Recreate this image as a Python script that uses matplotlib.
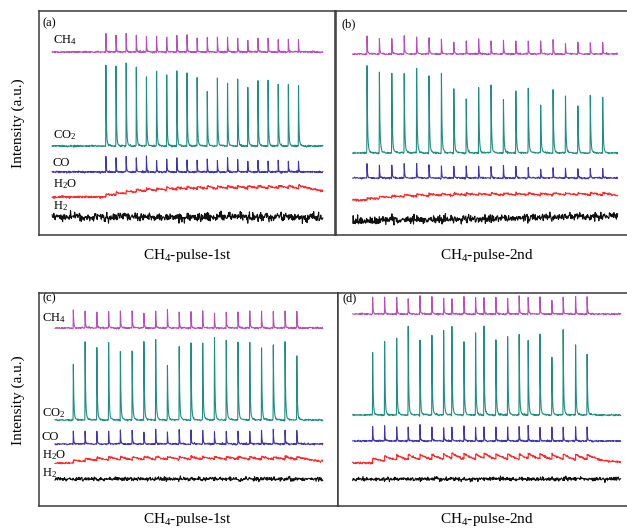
import numpy as np
import matplotlib
matplotlib.use("Agg")
import matplotlib.pyplot as plt

plt.rcParams['font.family'] = ['Liberation Serif', 'DejaVu Serif']
plt.rcParams['mathtext.fontset'] = 'custom'
plt.rcParams['mathtext.rm'] = 'Liberation Serif'
plt.rcParams['mathtext.it'] = 'Liberation Serif:italic'

# ---------------- data (a.u.) ----------------
gases = ["CH$_4$", "CO$_2$", "CO", "H$_2$O", "H$_2$"]

pulses_a = list(range(20))
pulses_b = list(range(20))
pulses_c = list(range(20))
pulses_d = [0, 1.06, 2.13, 3.15, 4.19, 5.25, 6.29, 7.02, 8.09, 9.12,
            9.86, 10.92, 11.96, 12.98, 13.78, 14.82, 15.88, 16.88, 17.98, 19.0]

ch4_a = [19, 17, 18, 17, 15, 17, 15, 17, 18, 14, 15, 15, 15, 14, 12, 14, 14, 13, 13, 12]
co2_a = [81, 80, 84, 79, 69, 76, 71, 76, 73, 69, 55, 68, 64, 67, 59, 66, 66, 63, 62, 61]
co_a = [16, 14, 16, 14, 16, 12, 13, 14, 12, 12, 13, 12, 14, 12, 11, 12, 11, 12, 11, 11]

ch4_b = [18, 16, 16, 18, 17, 16, 15, 12, 13, 15, 13, 14, 13, 13, 13, 14, 10, 12, 12, 11]
co2_b = [87, 81, 80, 79, 85, 77, 80, 64, 54, 66, 68, 54, 62, 65, 48, 64, 58, 47, 58, 56]
co_b = [15, 13, 13, 14, 14, 13, 12, 12, 12, 12, 12, 12, 12, 10, 9, 10, 10, 9, 10, 9]

ch4_c = [18, 17, 16, 16, 17, 17, 15, 17, 18, 16, 17, 17, 15, 16, 16, 17, 17, 17, 17, 16]
co2_c = [56, 79, 73, 77, 69, 69, 79, 81, 55, 73, 78, 78, 83, 80, 78, 78, 73, 76, 79, 64]
co_c = [13, 13, 13, 13, 14, 14, 12, 15, 12, 14, 14, 14, 13, 13, 13, 13, 14, 15, 14, 14]

ch4_d = [17, 17, 17, 15, 18, 17, 16, 15, 17, 17, 16, 17, 16, 18, 17, 17, 14, 17, 18, 17]
co2_d = [63, 74, 77, 90, 75, 80, 85, 89, 74, 82, 89, 75, 79, 81, 75, 81, 58, 86, 70, 61]
co_d = [14, 15, 14, 14, 16, 14, 14, 14, 15, 14, 14, 14, 14, 14, 16, 14, 14, 14, 14, 14]

# H2O response per pulse (jump height, relaxation time)
h2o_step = {"a": 2.6, "b": 2.0, "c": 3.0, "d": 5.0}
h2o_tau = {"a": 3.9, "b": 3.0, "c": 1.65, "d": 1.23}

captions = ["CH$_4$-pulse-1st", "CH$_4$-pulse-2nd", "CH$_4$-pulse-1st", "CH$_4$-pulse-2nd"]
ylabel = "Intensity (a.u.)"

colors = ["#B84FB8", "#1F8F82", "#4136B2", "#FF2B2B", "#111111"]

# ---------------- helpers ----------------
rng = np.random.default_rng(11)  # only for the detector-noise texture


def peak_train(t, times, heights, tau=0.03):
    y = np.zeros_like(t)
    for t0, h in zip(times, heights):
        dt = t - t0
        dp = np.maximum(dt, 0)
        fall = 0.92 * np.exp(-dp / tau) + 0.08 * np.exp(-dp / 0.15)
        rise = np.exp(-(np.minimum(dt, 0) / 0.012) ** 2)
        y += h * np.where(dt < 0, rise, fall)
    return y


def water(t, times, step, tau):
    y = np.zeros_like(t)
    for t0 in times:
        dt = t - t0
        y += step * np.where(dt >= 0, np.exp(-np.maximum(dt, 0) / tau), 0.0)
    return y


def texture(t, amp, per_unit):
    n = max(int((t[-1] - t[0]) * per_unit), 4)
    grid = np.linspace(t[0], t[-1], n)
    return np.interp(t, grid, rng.normal(0, amp, n))


# ---------------- figure ----------------
W, H = 627, 529
fig = plt.figure(figsize=(W / 100, H / 100), dpi=100)


def rect(x0, x1, y0, y1):
    return [x0 / W, 1 - y1 / H, (x1 - x0) / W, (y1 - y0) / H]


panels = [
    dict(key="a", rect=rect(39, 335, 11, 235), ylim=224, xlim=(-6.6, 22.6), tr=(-5.3, 21.4),
         pulses=pulses_a, ch4=ch4_a, co2=co2_a, co=co_a,
         base=[183, 89, 63, 38, (18, 18)], h2amp=2.2, labels=True,
         labpos=[0.87, 0.446, 0.321, 0.228, 0.13], labx=0.047, tag=(0.013, 0.945)),
    dict(key="b", rect=rect(336, 630, 11, 235), ylim=224, xlim=(-2.5, 21.2), tr=(-1.15, 20.2),
         pulses=pulses_b, ch4=ch4_b, co2=co2_b, co=co_b,
         base=[181, 82, 57, 35, (14, 19)], h2amp=1.9, labels=False,
         labpos=None, labx=None, tag=(0.02, 0.94)),
    dict(key="c", rect=rect(39, 338, 293, 506), ylim=213, xlim=(-2.92, 22.5), tr=(-1.56, 21.2),
         pulses=pulses_c, ch4=ch4_c, co2=co2_c, co=co_c,
         base=[178, 86, 62, 43, (27, 27)], h2amp=1.0, labels=True,
         labpos=[0.883, 0.437, 0.324, 0.239, 0.155], labx=0.01, tag=(0.013, 0.975)),
    dict(key="d", rect=rect(338, 630, 293, 506), ylim=213, xlim=(-3.07, 22.8), tr=(-1.77, 21.97),
         pulses=pulses_d, ch4=ch4_d, co2=co2_d, co=co_d,
         base=[192, 91, 65, 43, (27, 27)], h2amp=1.0, labels=False,
         labpos=None, labx=None, tag=(0.015, 0.975)),
]

for p in panels:
    ax = fig.add_axes(p["rect"])
    t = np.linspace(p["tr"][0], p["tr"][1], 12000)
    b = p["base"]
    series = [
        b[0] + peak_train(t, p["pulses"], p["ch4"]) + texture(t, 0.4, 35),
        b[1] + peak_train(t, p["pulses"], p["co2"], tau=0.04) + texture(t, 0.4, 35),
        b[2] + peak_train(t, p["pulses"], p["co"]) + texture(t, 0.4, 35),
        b[3] + water(t, p["pulses"], h2o_step[p["key"]], h2o_tau[p["key"]]) + texture(t, 0.5, 35),
    ]
    for y, c in zip(series, colors[:4]):
        ax.plot(t, y, color=c, lw=0.8, zorder=3)
    t2 = np.linspace(p["tr"][0], p["tr"][1], 650)
    h2 = np.linspace(b[4][0], b[4][1], t2.size) + rng.normal(0, p["h2amp"], t2.size)
    ax.plot(t2, h2, color=colors[4], lw=0.8, zorder=3)

    ax.set_xlim(*p["xlim"])
    ax.set_ylim(0, p["ylim"])
    ax.set_xticks([])
    ax.set_yticks([])
    for s in ax.spines.values():
        s.set_linewidth(1.1)
        s.set_color("#3a3a3a")

    ax.text(p["tag"][0], p["tag"][1], "(" + p["key"] + ")", transform=ax.transAxes,
            fontsize=9, ha="left", va="center", zorder=1)
    if p["labels"]:
        for name, yy in zip(gases, p["labpos"]):
            ax.text(p["labx"], yy, name, transform=ax.transAxes, fontsize=9,
                    ha="left", va="center", zorder=1)

# captions and axis labels
cap_pos = [(188, 256), (487, 256), (188, 520), (487, 520)]
for (cx, cy), txt in zip(cap_pos, captions):
    fig.text(cx / W, 1 - cy / H, txt, fontsize=11, ha="center", va="center")

for cy in (123, 400):
    fig.text(18 / W, 1 - cy / H, ylabel, fontsize=11, rotation=90, ha="center", va="center")

fig.savefig("out.png", dpi=100)
